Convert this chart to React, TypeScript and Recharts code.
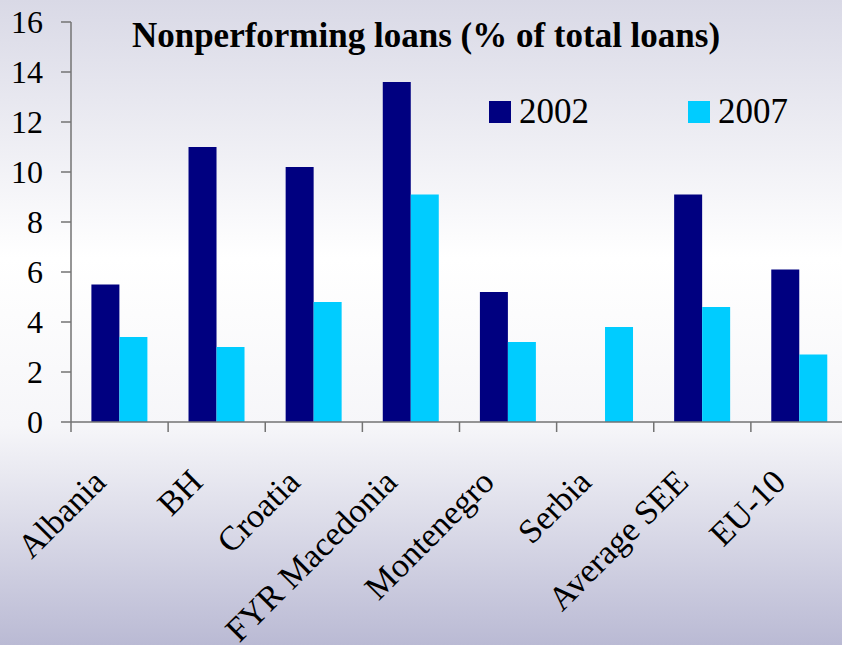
import { BarChart, Bar, XAxis, YAxis } from "recharts";

const categories = [
  "Albania",
  "BH",
  "Croatia",
  "FYR Macedonia",
  "Montenegro",
  "Serbia",
  "Average SEE",
  "EU-10",
];
const npl2002 = [5.5, 11.0, 10.2, 13.6, 5.2, null, 9.1, 6.1];
const npl2007 = [3.4, 3.0, 4.8, 9.1, 3.2, 3.8, 4.6, 2.7];
const yTicks = [0, 2, 4, 6, 8, 10, 12, 14, 16];
const seriesNames = ["2002", "2007"];
const seriesColors = ["#000080", "#00ccff"];

const data = categories.map((name, i) => ({
  name,
  y2002: npl2002[i],
  y2007: npl2007[i],
}));

const CHART_W = 848;
const CHART_H = 645;
const Y_AXIS_W = 71;
const BAND_HALF = (CHART_W - Y_AXIS_W) / categories.length / 2;
const FONT = "'Liberation Serif', 'Times New Roman', serif";
const AXIS_GREY = "#737373";

const CategoryTick = (props: any) => {
  const { x, y, payload } = props;
  const tx = x - 12;
  const ty = y + 62;
  return (
    <g>
      <line x1={x - BAND_HALF} x2={x - BAND_HALF} y1={y} y2={y + 10} stroke={AXIS_GREY} strokeWidth={1.5} />
      <text
        x={tx}
        y={ty}
        transform={`rotate(-45, ${tx}, ${ty})`}
        textAnchor="end"
        fontSize={34}
        fontFamily={FONT}
        fill="#000"
      >
        {payload.value}
      </text>
    </g>
  );
};

const ValueTick = (props: any) => {
  const { x, y, payload } = props;
  return (
    <text x={x} y={y} dy={11} textAnchor="end" fontSize={32} fontFamily={FONT} fill="#000">
      {payload.value}
    </text>
  );
};

export default function App() {
  return (
    <div
      style={{
        position: "absolute",
        left: 0,
        top: 0,
        width: 842,
        height: 645,
        overflow: "hidden",
        background:
          "linear-gradient(to bottom, #d9d9e6 0%, #ffffff 40%, #f6f6f9 66%, #babad4 100%)",
      }}
    >
      <BarChart
        width={CHART_W}
        height={CHART_H}
        data={data}
        margin={{ top: 22, right: 0, bottom: 0, left: 0 }}
        barCategoryGap="21%"
        barGap={0}
      >
        <XAxis
          dataKey="name"
          height={223}
          interval={0}
          tickSize={0}
          tickMargin={0}
          tick={<CategoryTick />}
          axisLine={{ stroke: AXIS_GREY, strokeWidth: 1.5 }}
        />
        <YAxis
          width={Y_AXIS_W}
          domain={[0, 16]}
          ticks={yTicks}
          interval={0}
          tickSize={10}
          tickMargin={18}
          tick={<ValueTick />}
          tickLine={{ stroke: AXIS_GREY, strokeWidth: 1.5 }}
          axisLine={{ stroke: AXIS_GREY, strokeWidth: 1.5 }}
        />
        <Bar dataKey="y2002" name={seriesNames[0]} fill={seriesColors[0]} isAnimationActive={false} />
        <Bar dataKey="y2007" name={seriesNames[1]} fill={seriesColors[1]} isAnimationActive={false} />
      </BarChart>
      <div
        style={{
          position: "absolute",
          left: 0,
          width: 852,
          top: 18,
          textAlign: "center",
          fontFamily: FONT,
          fontWeight: "bold",
          fontSize: 35,
          lineHeight: "35px",
          whiteSpace: "nowrap",
        }}
      >
        Nonperforming loans (% of total loans)
      </div>
      <div
        style={{
          position: "absolute",
          left: 489,
          top: 94,
          display: "flex",
          fontFamily: FONT,
          fontSize: 35,
        }}
      >
        {seriesNames.map((s, i) => (
          <div key={s} style={{ display: "flex", alignItems: "center", width: 199 }}>
            <span style={{ width: 22, height: 22, background: seriesColors[i], marginRight: 8, display: "inline-block" }} />
            <span style={{ lineHeight: "35px" }}>{s}</span>
          </div>
        ))}
      </div>
    </div>
  );
}
